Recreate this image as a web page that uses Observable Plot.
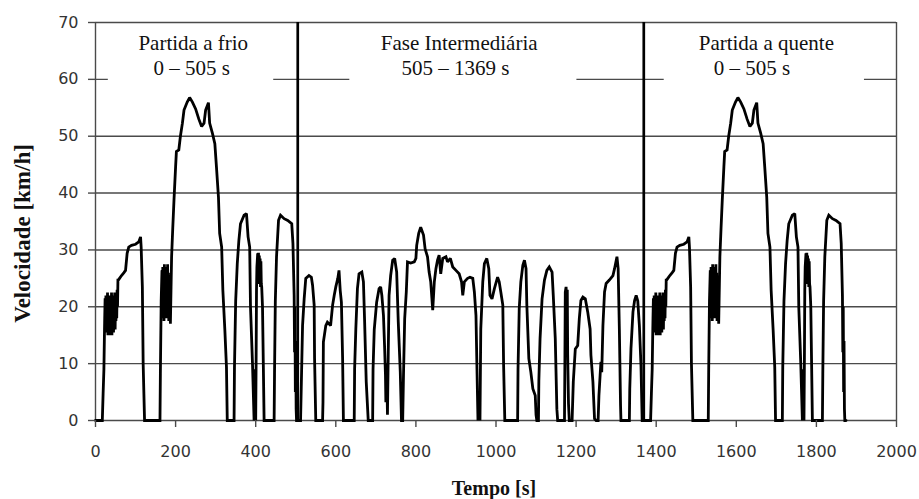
<!DOCTYPE html>
<html>
<head>
<meta charset="utf-8">
<script src="https://cdn.jsdelivr.net/npm/d3@7"></script>
<script src="https://cdn.jsdelivr.net/npm/@observablehq/plot@0.6"></script>
<style>
  html, body { margin: 0; padding: 0; background: #fff; }
  #chart { width: 919px; height: 499px; }
</style>
</head>
<body>
<div id="chart"></div>
<script>
// ---- Data ----
// Cold-start phase (0 – 505 s): time [s] and speed [km/h]
const coldT = [0,17,19,21,22.5,23,24,25,26,27,28,29,30,31,32,33,34,35,36,37,38,39,40,41,42,43,44,45,46,47,48,49,50,51,52,53,54,55,56,57,60,65,71,75,79,83,90,100,108,112.5,114,117,119,122.5,
  161,162,164,166,167,168,169,170,171,172,173,174,175,176,177,178,179,180,181,182,183,184,185,186,187,190,193,196,200,202,208,212,217,221,229,235,242,250,258,265,271,275,282,285,292,298,302,307,310,315,318,323,327,329,
  346,347,350,354,358,362,371,377,381,385,387,392,396,397,398,399,400,401,402,403,405,406,407,408,409,410,411,412,413,414,415,417,419,421,
  446,447,449,452,457,462,471,480,490,493,496,497,498,499,500,501,502,505];
const coldV = [0,0,4.7,9,16,18,21.5,15.5,22,16,21,17,22.5,15,21,15.5,20,16,22,15,21,16.5,22.5,15,20.5,16,22,15.5,21,17,22.5,16,21.5,17.5,22.5,18,23,20,24.7,24.7,25,25.5,26,26.4,29.4,30.5,30.8,31,31.4,32.3,30.5,23.5,10,0,
  0,8.2,21,26.4,18,27,19,26,17.5,27.5,20,26,18,27,19.5,26.5,18,27.5,18.5,26,17.5,25.5,18,25,17,28.8,34,38.8,44.6,47.3,47.6,50,52.3,54.6,56,56.8,56,54.8,53,51.7,52.3,54.6,55.9,52.3,50.5,48.7,44.6,39.3,32.9,30.5,22.9,15.9,9.4,0,
  0,9.4,21,27.6,31.7,34.6,36.1,36.4,32.3,30.5,20,10,0,9,0,8,0,10,22.9,27,29.4,25,29.5,24,29,25,28.5,23.5,28,24,23.5,20,10,0,
  0,8.2,21,28.8,35.2,36.1,35.5,35.2,34.6,31.1,22,12,20,5,14,2,0,0];

// Intermediate phase (505 – 1369 s)
const interT = [505,512,517,521,525,533,539,542,546,547,550,567,568,569,575,579,587,592,596,600,605,608,611,614,617,619,
  646,647,650,654,658,665,669,672,676,681,692,693,696,702,708,712,715,719,722,724,725,727,729,731,733,737,742,747,752,756,761,764,
  767,769,772,776,779,787,796,800,802,807,812,819,823,829,833,837,842,846,850,854,858,862,867,875,879,886,892,900,908,914,917,921,929,935,942,946,950,952,955,958,960,
  962,967,971,977,982,985,990,996,1004,1008,1012,1017,1019,1022,1054,1055,1058,1062,1067,1071,1075,1077,1082,1087,1092,1098,1100,1102,
  1106,1107,1110,1115,1121,1127,1133,1140,1143,1148,1152,1154,1171,1172,1173,1175,1177,1178,1179,1181,1183,1190,1193,1198,1204,1208,1212,1217,1223,1229,1235,1237,1242,1246,1250,
  1255,1257,1260,1262,1264,1267,1271,1275,1283,1292,1296,1302,1305,1308,1311,1312,1333,1334,1337,1342,1346,1350,1354,1358,1362,1365,1369];
const interV = [0,0,16.7,21.4,25,25.5,25.2,23.8,20.3,10.9,0,0,3.2,13.8,16.7,17.3,16.7,20.3,22,23.5,25,26.4,22.9,20.8,10.9,0,
  0,9.1,16.1,23.2,25.8,26.1,24.4,17.3,6.8,0,0,9,16,20.8,23.2,23.5,22,18.5,12.6,8,3.2,10,1,12,22,25.5,28.2,28.5,26.1,17.3,8.5,0,
  0,7.9,17.9,22.6,27.9,27.7,27.9,28.5,30.8,32.9,34,32.6,30.2,28.8,26.1,24.4,19.4,24.4,26.7,28.2,29.1,25.8,28.5,28.8,27.9,28.5,27,26.4,25.8,24.4,22,24.4,25,25.2,25,22.6,18.5,10.9,0,3,0,
  16.1,24.4,27.6,28.5,26.7,22,21.4,23.2,25.2,24.4,22.6,20.3,9.7,0,0,9.1,19.7,24.4,27.3,28.2,26.7,20.3,10.9,8.5,5.6,4.4,1,0,
  0,7,14.4,21.4,24.7,26.4,27,26.1,22,14.4,2,0,0,10.3,22.6,23.5,20,23,11.5,3,0,0,6.8,12.6,13.2,17.9,21.1,21.7,21.4,19.1,16.1,11.5,6.8,0.3,0,
  0,4.4,8,10.3,8.5,16.7,22.6,24.1,24.7,25.5,26.7,28.8,26.7,16.1,2.6,0,0,5.6,12.6,19.1,21.1,22,21,16.7,9.7,0,0];

// Hot-start phase repeats the cold-start profile, drawn from 1369 s on
const hotStart = 1369;

const xTicks = [0,200,400,600,800,1000,1200,1400,1600,1800,2000];
const yTicks = [0,10,20,30,40,50,60,70];
const phaseBounds = [505, 1369];

const phaseTitles = ["Partida a frio", "Fase Intermediária", "Partida a quente"];
const phaseRanges = ["0 – 505 s", "505 – 1369 s", "0 – 505 s"];
const titleX = [244, 908, 1675];
const rangeX = [240, 899, 1639];
// white label boxes (data units) hiding the 60 gridline behind the labels
const boxX1 = [32, 635, 1420];
const boxX2 = [445, 1202, 1920];

// ---- Build rows ----
const rows = [];
coldT.forEach((t, i) => rows.push({t, v: coldV[i]}));
interT.forEach((t, i) => rows.push({t, v: interV[i]}));
coldT.forEach((t, i) => rows.push({t: t + hotStart, v: coldV[i]}));

const boxes = boxX1.map((x1, i) => ({x1, x2: boxX2[i]}));
const titles = phaseTitles.map((s, i) => ({s, x: titleX[i]}));
const ranges = phaseRanges.map((s, i) => ({s, x: rangeX[i]}));

const gridColor = "#4a4a4a";
const serif = "'Liberation Serif', 'Times New Roman', serif";

const chart = Plot.plot({
  width: 919,
  height: 499,
  marginLeft: 95,
  marginRight: 23,
  marginTop: 22,
  marginBottom: 79,
  style: {background: "#fff", fontFamily: "'DejaVu Sans', sans-serif", fontSize: "16px", color: "#333"},
  x: {domain: [0, 2000]},
  y: {domain: [0, 70]},
  marks: [
    Plot.ruleY(yTicks, {stroke: gridColor, strokeWidth: 1.4}),
    Plot.rect(boxes, {x1: "x1", x2: "x2", y1: 59.7, y2: 68.8, fill: "#fff"}),
    Plot.ruleX([0, 2000], {stroke: gridColor, strokeWidth: 1.4}),
    Plot.ruleX(phaseBounds, {stroke: "#000", strokeWidth: 2.7}),
    Plot.line(rows, {x: "t", y: "v", stroke: "#000", strokeWidth: 2.8, strokeLinejoin: "miter", strokeMiterlimit: 2}),
    Plot.axisY(yTicks, {tickSize: 7, tickPadding: 10, stroke: gridColor, strokeWidth: 1.4, fill: "#333", fontSize: 16, label: null, tickFormat: d => `${d}`}),
    Plot.axisX(xTicks, {tickSize: 7, tickPadding: 18, stroke: gridColor, strokeWidth: 1.4, fill: "#333", fontSize: 16, label: null, tickFormat: d => `${d}`}),
    Plot.text(titles, {x: "x", y: 66.4, text: "s", fontFamily: serif, fontSize: 21, fill: "#111", lineAnchor: "middle"}),
    Plot.text(ranges, {x: "x", y: 62.0, text: "s", fontFamily: serif, fontSize: 21, fill: "#111", lineAnchor: "middle"}),
    Plot.text(["Velocidade [km/h]"], {frameAnchor: "left", dx: -73, dy: 12, rotate: -90, fontFamily: serif, fontWeight: "bold", fontSize: 23, fill: "#111", lineAnchor: "middle", textAnchor: "middle"}),
    Plot.text(["Tempo [s]"], {frameAnchor: "bottom", dx: -2, dy: 68, fontFamily: serif, fontWeight: "bold", fontSize: 20, fill: "#111", lineAnchor: "middle", textAnchor: "middle"})
  ]
});
document.getElementById("chart").appendChild(chart);
</script>
</body>
</html>
